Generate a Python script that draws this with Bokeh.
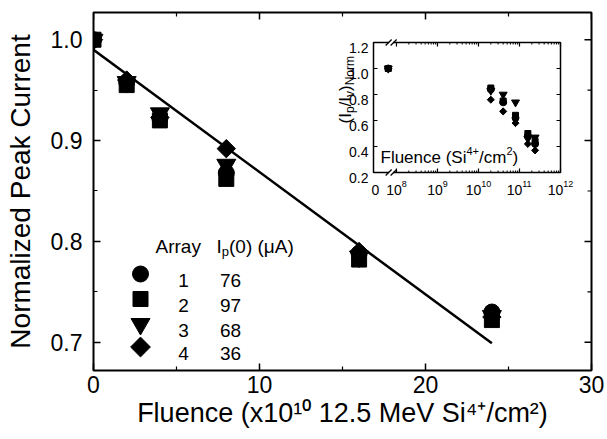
import numpy as np
from bokeh.plotting import figure
from bokeh.models import Range1d, FixedTicker, Label
from bokeh.embed import file_html
from bokeh.resources import INLINE

# ---------------- data ----------------
fluence = [0, 2, 4, 8, 16, 24]            # x10^10 Si4+/cm2
array1 = [1.0, 0.958, 0.922, 0.868, 0.788, 0.730]   # circle
array2 = [1.0, 0.955, 0.920, 0.862, 0.782, 0.722]   # square
array3 = [1.0, 0.958, 0.927, 0.876, 0.785, 0.726]   # triangle
array4 = [1.0, 0.960, 0.923, 0.892, 0.790, 0.725]   # diamond
fit_x = [0, 24]
fit_y = [0.990, 0.699]

inset1 = [1.0, 0.84, 0.74, 0.62, 0.48, 0.42]
inset2 = [1.0, 0.85, 0.75, 0.64, 0.50, 0.44]
inset3 = [1.0, 0.83, 0.80, 0.74, 0.46, 0.47]
inset4 = [1.0, 0.76, 0.67, 0.58, 0.42, 0.37]

legend_ids = ["1", "2", "3", "4"]
legend_ip0 = ["76", "97", "68", "36"]

x_ticks = [0, 10, 20, 30]
x_minor = [5, 15, 25]
y_ticks = [0.7, 0.8, 0.9, 1.0]
y_minor = [0.75, 0.85, 0.95]
inset_y_ticks = [0.2, 0.4, 0.6, 0.8, 1.0, 1.2]
inset_y_labels = ["0.2", "0.4", "0.6", "0.8", "1.0", "1.2"]
inset_x_exps = [8, 9, 10, 11, 12]

x_title = "Fluence (x10\u00b9\u2070 12.5 MeV Si\u2074\u207a/cm\u00b2)"
y_title = "Normalized Peak Current"

# ---------------- layout ----------------
W, H = 607, 439
FL, FR, FT, FB = 93, 591, 12, 370
X0, X1 = 0, 30
Y0, Y1 = 0.672, 1.027
FONT = "Liberation Sans"

# inset box (pixels) and its data limits (log10 fluence / ratio)
IL, IR, IT, IB = 373, 560, 42, 172
IX0, IX1 = 7.44, 12.0
IY0, IY1 = 0.2, 1.2
ZERO_POS = 7.80

xpp = (X1 - X0) / (FR - FL)
ypp = (Y1 - Y0) / (FB - FT)

def X(px):
    return X0 + (px - FL) * xpp

def Y(py):
    return Y1 - (py - FT) * ypp

ixpp = (IX1 - IX0) / (IR - IL)
iypp = (IY1 - IY0) / (IB - IT)

def IPX(v):
    return IL + (v - IX0) / ixpp

def IPY(v):
    return IB - (v - IY0) / iypp

p = figure(width=W, height=H, x_range=Range1d(X0, X1), y_range=Range1d(Y0, Y1),
           output_backend="svg", toolbar_location=None,
           min_border_left=FL, min_border_right=W - FR,
           min_border_top=FT, min_border_bottom=H - FB)
p.background_fill_color = "white"
p.border_fill_color = "white"
p.grid.visible = False
p.outline_line_color = "black"
p.outline_line_width = 2

p.extra_x_ranges = {"ix": Range1d(IX0 - (IL - FL) * ixpp, IX1 + (FR - IR) * ixpp)}
p.extra_y_ranges = {"iy": Range1d(IY0 - (FB - IB) * iypp, IY1 + (IT - FT) * iypp)}

def style_axis(ax, standoff):
    ax.axis_line_color = None
    ax.major_tick_in = 7
    ax.major_tick_out = 0
    ax.minor_tick_in = 4
    ax.minor_tick_out = 0
    ax.major_tick_line_width = 1.5
    ax.minor_tick_line_width = 1.2
    ax.major_tick_line_color = "black"
    ax.minor_tick_line_color = "black"
    ax.major_label_text_font = FONT
    ax.major_label_text_font_size = "23px"
    ax.major_label_text_color = "black"
    ax.major_label_standoff = standoff
    ax.axis_label_text_font = FONT
    ax.axis_label_text_font_style = "normal"
    ax.axis_label_text_color = "black"

p.xaxis.ticker = FixedTicker(ticks=x_ticks, minor_ticks=x_minor)
p.yaxis.ticker = FixedTicker(ticks=y_ticks, minor_ticks=y_minor)
style_axis(p.xaxis[0], 5)
style_axis(p.yaxis[0], 11)
p.xaxis.major_label_overrides = {0: "0", 10: "10", 20: "20", 30: "30"}
p.yaxis.major_label_overrides = {0.7: "0.7", 0.8: "0.8", 0.9: "0.9", 1.0: "1.0"}
p.xaxis.axis_label = x_title
p.xaxis.axis_label_text_font_size = "27px"
p.xaxis.axis_label_standoff = 2
p.yaxis.axis_label = y_title
p.yaxis.axis_label_text_font_size = "28px"
p.yaxis.axis_label_standoff = 12

# mirrored ticks on top and right edges
for t in x_ticks:
    p.segment(x0=[t], y0=[Y1], x1=[t], y1=[Y1 - 7 * ypp], line_color="black", line_width=1.5)
for t in x_minor:
    p.segment(x0=[t], y0=[Y1], x1=[t], y1=[Y1 - 4 * ypp], line_color="black", line_width=1.2)
for t in y_ticks:
    p.segment(x0=[X1], y0=[t], x1=[X1 - 7 * xpp], y1=[t], line_color="black", line_width=1.5)
for t in y_minor:
    p.segment(x0=[X1], y0=[t], x1=[X1 - 4 * xpp], y1=[t], line_color="black", line_width=1.2)

# ---------------- rich text helper ----------------
AW = {' ': .278, '(': .333, ')': .333, '+': .584, '.': .278, '/': .278,
      'A': .667, 'C': .722, 'F': .611, 'I': .278, 'M': .833, 'N': .722, 'P': .667,
      'S': .667, 'V': .667, 'a': .556, 'c': .5, 'd': .556, 'e': .556, 'i': .222,
      'k': .5, 'l': .222, 'm': .833, 'n': .556, 'o': .556, 'p': .556, 'r': .333,
      't': .278, 'u': .556, 'v': .5, 'x': .5, 'y': .5, 'z': .5, 'μ': .576}

def tw(s, size):
    return sum(AW.get(c, .556) for c in s) * size

def rich(pieces, x, y, align="left", angle=0.0):
    total = sum(tw(t, s) for t, s, _ in pieces)
    pos = {"left": 0.0, "center": -total / 2, "right": -total}[align]
    for t, s, sh in pieces:
        if angle == 0.0:
            px, py = x + pos, y - sh
        else:
            px, py = x - sh, y - pos
        p.add_layout(Label(x=X(px), y=Y(py), text=t, angle=angle,
                           text_font=FONT, text_font_size=f"{s}px",
                           text_align="left", text_baseline="alphabetic",
                           text_color="black"))
        pos += tw(t, s)

# ---------------- main data ----------------
p.line(fit_x, fit_y, line_color="black", line_width=2.5)
p.scatter(fluence, array1, marker="circle", size=16, color="black")
p.scatter(fluence, array2, marker="square", size=15, color="black")
p.scatter(fluence, array3, marker="inverted_triangle", size=19, color="black")
p.scatter(fluence, array4, marker="square", angle=np.pi / 4, size=13, color="black")

# ---------------- legend ----------------
rich([("Array", 19, 0)], 155, 246)
rich([("I", 19, 0), ("p", 13, -5), ("(0) (μA)", 19, 0)], 216, 246)
row_base = [280, 305, 330, 353]
markers = [("circle", 16, 0.0), ("square", 15, 0.0), ("inverted_triangle", 19, 0.0),
           ("square", 14, np.pi / 4)]
for i, (m, sz, ang) in enumerate(markers):
    cy = row_base[i] - 6.5
    p.scatter([X(140)], [Y(cy)], marker=m, size=sz, angle=ang, color="black")
    rich([(legend_ids[i], 19, 0)], 183, row_base[i], align="center")
    rich([(legend_ip0[i], 19, 0)], 230, row_base[i], align="center")

# ---------------- inset ----------------
R = dict(x_range_name="ix", y_range_name="iy")
p.quad(left=[IX0], right=[IX1], bottom=[IY0], top=[IY1], fill_color="white",
       line_color="black", line_width=1.5, **R)

tl = 4
for v in inset_y_ticks:
    p.segment(x0=[IX0], y0=[v], x1=[IX0 + tl * ixpp], y1=[v], line_color="black", line_width=1.2, **R)
    p.segment(x0=[IX1], y0=[v], x1=[IX1 - tl * ixpp], y1=[v], line_color="black", line_width=1.2, **R)
for e in inset_x_exps:
    p.segment(x0=[e], y0=[IY0], x1=[e], y1=[IY0 + tl * iypp], line_color="black", line_width=1.2, **R)
    p.segment(x0=[e], y0=[IY1], x1=[e], y1=[IY1 - tl * iypp], line_color="black", line_width=1.2, **R)
    for k in range(2, 10):
        lv = e + np.log10(k)
        if lv < IX1:
            p.segment(x0=[lv], y0=[IY0], x1=[lv], y1=[IY0 + 2 * iypp], line_color="black", line_width=1, **R)
            p.segment(x0=[lv], y0=[IY1], x1=[lv], y1=[IY1 - 2 * iypp], line_color="black", line_width=1, **R)

# axis break marks
BREAK = 7.87
for yy in (IY0, IY1):
    p.segment(x0=[BREAK - 2 * ixpp], y0=[yy], x1=[BREAK + 2 * ixpp], y1=[yy],
              line_color="white", line_width=3, **R)
    for dx in (-2.5, 2.5):
        p.segment(x0=[BREAK + (dx - 3) * ixpp], y0=[yy - 3 * iypp],
                  x1=[BREAK + (dx + 3) * ixpp], y1=[yy + 3 * iypp],
                  line_color="black", line_width=1.2, **R)

ix_pos = [ZERO_POS if f == 0 else np.log10(f * 1e10) for f in fluence]
p.scatter(ix_pos, inset1, marker="circle", size=7, color="black", **R)
p.scatter(ix_pos, inset2, marker="square", size=6, color="black", **R)
p.scatter(ix_pos, inset3, marker="inverted_triangle", size=8, color="black", **R)
p.scatter(ix_pos, inset4, marker="square", angle=np.pi / 4, size=5, color="black", **R)

# inset tick labels
for v, lab in zip(inset_y_ticks, inset_y_labels):
    rich([(lab, 14, 0)], IL - 5, IPY(v) + 5, align="right")
rich([("0", 14, 0)], IL + 2, 189, align="center")
for e in inset_x_exps:
    rich([("10", 14, 0), (str(e), 9, 6)], IPX(e), 189, align="center")

# inset labels
rich([("Fluence (Si", 17, 0), ("4+", 11, 7), ("/cm", 17, 0), ("2", 11, 7), (")", 17, 0)], 380, 157)
rich([("(I", 17, 0), ("p", 12, -4), ("/I", 17, 0), ("v", 12, -4), (")", 17, 0), ("Norm", 12, -4)],
     345, 123, angle=np.pi / 2)

open("out.html", "w").write(file_html(p, INLINE))
